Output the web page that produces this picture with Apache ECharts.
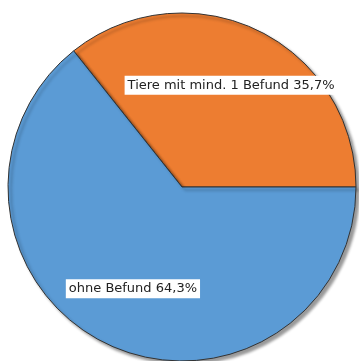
<!DOCTYPE html>
<html>
<head>
<meta charset="utf-8">
<script src="https://cdn.jsdelivr.net/npm/echarts@6/dist/echarts.min.js"></script>
<style>
  html, body { margin: 0; padding: 0; background: #fff; }
  #chart { width: 359px; height: 361px; }
</style>
</head>
<body>
<div id="chart"></div>
<script>
var categories = ['Tiere mit mind. 1 Befund', 'ohne Befund'];
var percents = [35.7, 64.3];
var colors = ['#ED7D31', '#5B9BD5'];

var pieData = categories.map(function (name, i) {
  return { name: name, value: percents[i], itemStyle: { color: colors[i] } };
});

var chart = echarts.init(document.getElementById('chart'));
var option = {
  backgroundColor: '#fff',
  animation: false,
  series: [{
    // the pie itself
    type: 'pie',
    center: [182, 187],
    radius: [0, 174],
    startAngle: 0,
    clockwise: false,
    silent: true,
    label: { show: false },
    labelLine: { show: false },
    itemStyle: {
      borderColor: '#333',
      borderWidth: 1,
      shadowColor: 'rgba(0,0,0,0.4)',
      shadowBlur: 3,
      shadowOffsetX: 3,
      shadowOffsetY: 3
    },
    data: pieData
  }, {
    // transparent ring just to place the labels further out
    type: 'pie',
    center: [182, 187],
    radius: [46, 174],
    startAngle: 0,
    clockwise: false,
    silent: true,
    itemStyle: { color: 'rgba(0,0,0,0)', borderWidth: 0 },
    label: {
      show: true,
      position: 'inside',
      formatter: function (p) {
        return p.name + ' ' + p.value.toFixed(1).replace('.', ',') + '%';
      },
      fontFamily: 'DejaVu Sans',
      fontSize: 13,
      color: '#222',
      backgroundColor: '#fff',
      padding: [3, 3, 3, 3]
    },
    labelLine: { show: false },
    data: categories.map(function (name, i) {
      return { name: name, value: percents[i] };
    })
  }]
};
chart.setOption(option);
</script>
</body>
</html>
